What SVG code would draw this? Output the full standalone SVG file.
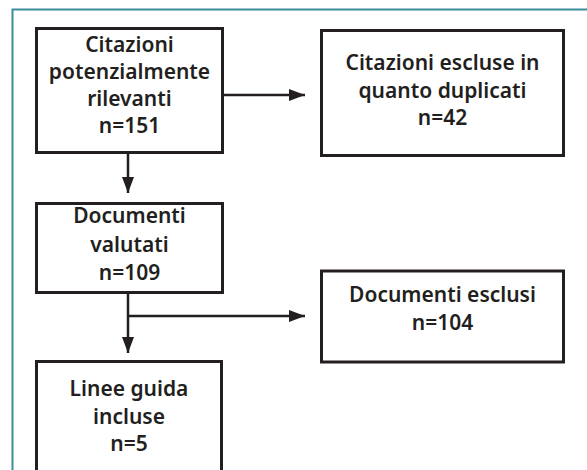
<svg xmlns="http://www.w3.org/2000/svg" width="587" height="470" viewBox="0 0 587 470">
<style>
.frame{fill:none;stroke:#3b8e99;stroke-width:2}
.box{fill:#fff;stroke:#231f20;stroke-width:3}
.conn{fill:none;stroke:#231f20;stroke-width:2.5}
text{font-family:"Noto Sans","Liberation Sans",sans-serif;font-weight:600;font-size:21px;fill:#231f20;text-anchor:middle}
</style>
<defs>
<marker id="ah" markerWidth="16" markerHeight="12" refX="16" refY="6" orient="auto" markerUnits="userSpaceOnUse" viewBox="0 0 16 12">
<path d="M0,0 L16,6 L0,12 z" fill="#231f20"/>
</marker>
</defs>
<rect width="587" height="470" fill="#fff"/>
<path class="frame" d="M12.5,470 V9.5 H587"/>
<g id="connectors">
<path class="conn" d="M223,95 H305" marker-end="url(#ah)"/>
<path class="conn" d="M128,153 V193" marker-end="url(#ah)"/>
<path class="conn" d="M128,293 V353" marker-end="url(#ah)"/>
<path class="conn" d="M128,316 H305" marker-end="url(#ah)"/>
</g>
<g id="n1">
<rect class="box" x="36.5" y="28.5" width="186" height="124"/>
<text x="129.5" y="52">Citazioni</text>
<text x="129.5" y="79">potenzialmente</text>
<text x="129.5" y="106">rilevanti</text>
<text x="129.5" y="133">n=151</text>
</g>
<g id="n2">
<rect class="box" x="321.5" y="30.5" width="242" height="125"/>
<text x="442.5" y="70">Citazioni escluse in</text>
<text x="442.5" y="97.5">quanto duplicati</text>
<text x="442.5" y="125">n=42</text>
</g>
<g id="n3">
<rect class="box" x="36.5" y="203.5" width="186" height="89"/>
<text x="129.5" y="223">Documenti</text>
<text x="129.5" y="252">valutati</text>
<text x="129.5" y="280">n=109</text>
</g>
<g id="n4">
<rect class="box" x="321.5" y="271" width="242" height="91"/>
<text x="442.5" y="302">Documenti esclusi</text>
<text x="442.5" y="330">n=104</text>
</g>
<g id="n5">
<rect class="box" x="36.5" y="361.5" width="185" height="120"/>
<text x="129" y="396">Linee guida</text>
<text x="129" y="424">incluse</text>
<text x="129" y="451">n=5</text>
</g>
</svg>
